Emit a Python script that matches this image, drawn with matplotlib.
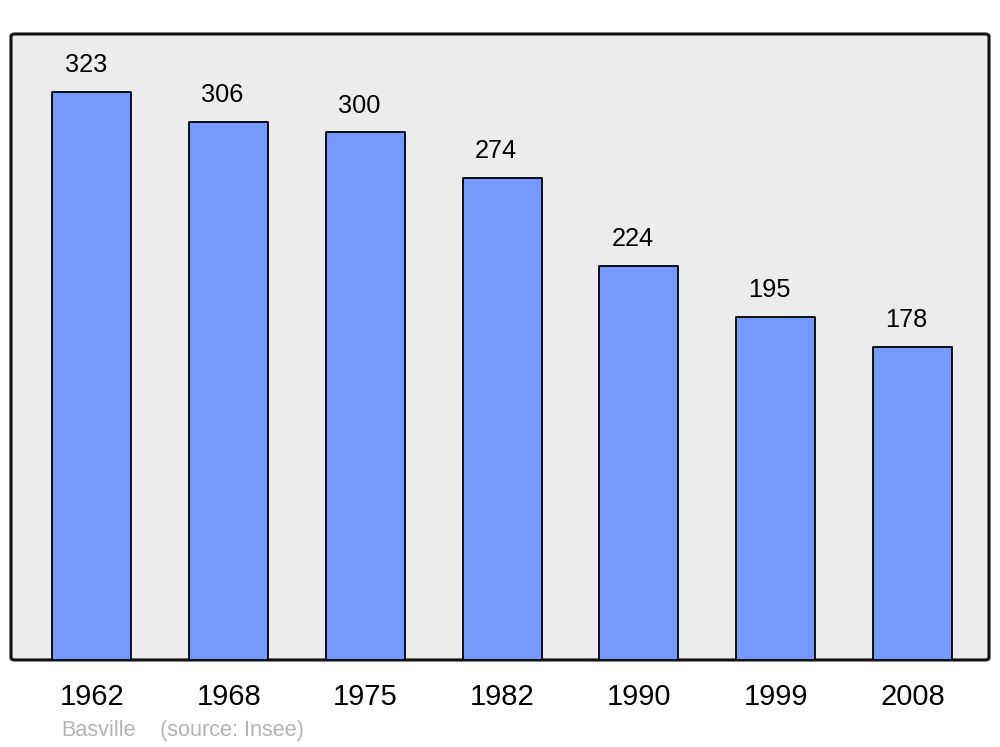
import matplotlib.pyplot as plt
from matplotlib.patches import FancyBboxPatch

# Population data
years = ["1962", "1968", "1975", "1982", "1990", "1999", "2008"]
population = [323, 306, 300, 274, 224, 195, 178]

plt.rcParams['font.family'] = ['Liberation Sans', 'DejaVu Sans']

fig = plt.figure(figsize=(10, 7.47), dpi=100)
ax = fig.add_axes([0.011, 0.1165, 0.978, 0.838])
ax.set_facecolor('none')

# rounded background frame
frame = FancyBboxPatch((0, 0), 1, 1, boxstyle="round,pad=0,rounding_size=0.004",
                       transform=ax.transAxes, facecolor='#ececec', edgecolor='#111111',
                       linewidth=2.2, zorder=0, clip_on=False)
ax.add_patch(frame)

x = range(len(years))
bars = ax.bar(x, population, width=0.578, color='#7499ff', edgecolor='black',
              linewidth=1.3, zorder=2)
for b in bars:
    b.set_joinstyle('round')

for i, v in enumerate(population):
    ax.annotate(str(v), (i, v), xytext=(-4.5, 19.3), textcoords='offset points',
                ha='center', va='center', fontsize=18.3)

ax.set_xlim(-0.592, 6.56)
ax.set_ylim(0, 356)
ax.set_xticks(list(x))
ax.set_xticklabels(years, fontsize=21)
ax.tick_params(axis='x', length=0, pad=16.5)
ax.set_yticks([])
for s in ax.spines.values():
    s.set_visible(False)

fig.text(0.061, 0.0215, "Basville", color='#b3b3b3', fontsize=15.6, va='center')
fig.text(0.160, 0.0215, "(source: Insee)", color='#b3b3b3', fontsize=15.6, va='center')

fig.savefig('out.png', dpi=100, facecolor='white')
